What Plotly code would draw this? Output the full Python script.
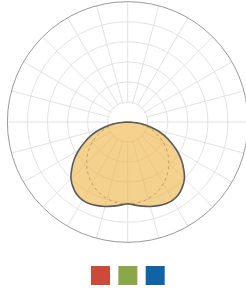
import plotly.graph_objects as go

# ---- data -------------------------------------------------------------
# half-plane luminous intensity curve (gamma 0 = straight down), symmetric
GAMMA = [0, 5, 10, 15, 20, 25, 30, 35, 40, 45, 50, 55, 60, 65, 70, 75, 80, 85, 90,
         95, 100, 110, 120, 130, 140, 150, 160, 170, 180]
INTENSITY = [204, 208, 213, 218, 222, 225, 225, 221, 212, 200, 182, 163, 141, 118,
             96, 72, 47, 22, 0, 0, 0, 0, 0, 0, 0, 0, 0, 0, 0]

# dotted reference (lambertian) curve
REF_GAMMA = [0, 5, 10, 15, 20, 25, 30, 35, 40, 45, 50, 55, 60, 65, 70, 75, 80, 85, 90]
REF_INTENSITY = [205, 204.2, 201.9, 198, 192.6, 185.8, 177.5, 167.9, 157, 145, 131.8,
                 117.6, 102.5, 86.6, 70.1, 53.1, 35.6, 17.9, 0]

# legend swatches
SERIES = ["C0-C180", "C90-C270", "C45-C225"]
SERIES_COLORS = ["#cd4a3a", "#8ba74a", "#1064a6"]

RADIAL_MAX = 300
GRID_STEP = 50
ANGLE_STEP = 15


def mirror(g, v):
    th = [-a for a in reversed(g)] + g[1:]
    r = list(reversed(v)) + v[1:]
    return th, r


th_main, r_main = mirror(GAMMA, INTENSITY)
th_ref, r_ref = mirror(REF_GAMMA, REF_INTENSITY)

fig = go.Figure()

# grid-only polar subplot needs a trace to be drawn
fig.add_trace(go.Scatterpolar(r=[], theta=[], subplot="polar", mode="lines",
                              showlegend=False, hoverinfo="skip"))

fig.add_trace(go.Scatterpolar(
    theta=th_ref, r=r_ref, mode="lines", subplot="polar2",
    line=dict(color="#7a7a7a", width=1, dash="dot", shape="spline"),
    hoverinfo="skip", showlegend=False))

fig.add_trace(go.Scatterpolar(
    theta=th_main, r=r_main, mode="lines", subplot="polar2", fill="toself",
    fillcolor="rgba(238,180,70,0.62)",
    line=dict(color="#5a5a5a", width=1.6, shape="spline", smoothing=0.6),
    showlegend=False))

fig.add_trace(go.Scatter(
    x=SERIES, y=[0] * len(SERIES), mode="markers",
    marker=dict(symbol="square", size=19, color=SERIES_COLORS, line=dict(width=0)),
    showlegend=False, hoverinfo="text", text=SERIES))

W, H = 250, 288
x_dom = [7.4 / W, 248.0 / W]
y_dom = [1 - 242.3 / H, 1 - 1.7 / H]
grid_col = "#e3e3e3"

# grid subplot: r=0 ring sits (almost) on the inner hole circle at 1/6 of the radius
R_LOW = -3
GRID_TOP = RADIAL_MAX - GRID_STEP
span = GRID_TOP - R_LOW
hole = (1 / 6 - (-R_LOW) / span) / (1 - (-R_LOW) / span)

fig.update_layout(
    width=W, height=H,
    margin=dict(l=0, r=0, t=0, b=0),
    paper_bgcolor="white", plot_bgcolor="rgba(0,0,0,0)",
    showlegend=False,
    polar=dict(
        domain=dict(x=x_dom, y=y_dom),
        hole=hole,
        bgcolor="white",
        radialaxis=dict(range=[R_LOW, GRID_TOP], tick0=0, dtick=GRID_STEP,
                        showgrid=True, gridcolor=grid_col, gridwidth=1,
                        showline=False, showticklabels=False, ticks=""),
        angularaxis=dict(rotation=-90, direction="counterclockwise", dtick=ANGLE_STEP,
                         showgrid=True, gridcolor=grid_col, gridwidth=1,
                         showline=False, showticklabels=False, ticks=""),
    ),
    polar2=dict(
        domain=dict(x=x_dom, y=y_dom),
        bgcolor="rgba(0,0,0,0)",
        radialaxis=dict(range=[0, RADIAL_MAX], visible=False, showgrid=False),
        angularaxis=dict(rotation=-90, direction="counterclockwise", showgrid=False,
                         showline=True, linecolor="#9a9a9a", linewidth=1,
                         showticklabels=False, ticks=""),
    ),
    xaxis=dict(domain=[0, 1], range=[-100.5 / 27.35, (W - 100.5) / 27.35],
               visible=False, type="category"),
    yaxis=dict(domain=[0, 1], range=[-12.5 / H, (H - 12.5) / H], visible=False),
)

fig.write_html(
    "out.html",
    config={"displayModeBar": False},
    post_script=(
        "document.body.style.margin='0';"
        "document.body.style.overflow='hidden';"
        "document.documentElement.style.overflow='hidden';"
    ),
)
